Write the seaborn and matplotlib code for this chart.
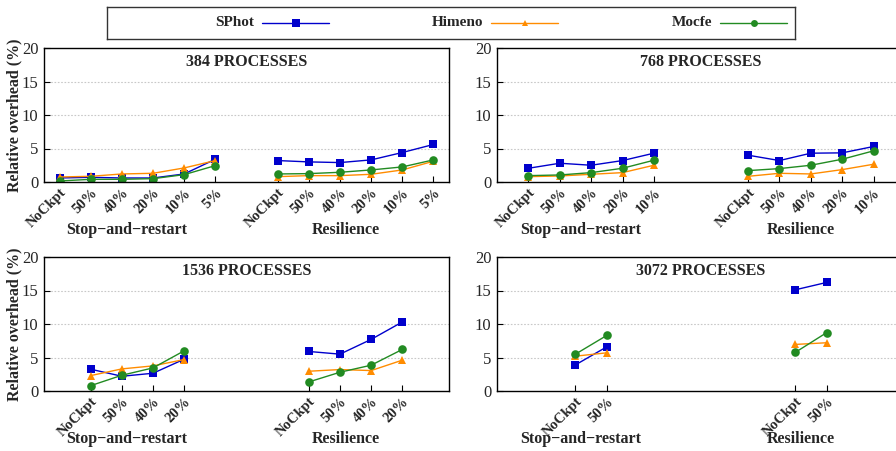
import matplotlib
matplotlib.use("Agg")
import matplotlib.pyplot as plt
import seaborn as sns
import pandas as pd

# ---------------- data ----------------
series = ["SPhot", "Himeno", "Mocfe"]
groups = ["Stop\u2212and\u2212restart", "Resilience"]

cats_384 = ["NoCkpt", "50%", "40%", "20%", "10%", "5%"]
cats_768 = ["NoCkpt", "50%", "40%", "20%", "10%"]
cats_1536 = ["NoCkpt", "50%", "40%", "20%"]
cats_3072 = ["NoCkpt", "50%"]

sphot_384_sr = [0.6, 0.7, 0.6, 0.6, 1.2, 3.4]
sphot_384_res = [3.2, 3.0, 2.9, 3.3, 4.4, 5.6]
himeno_384_sr = [0.75, 0.85, 1.2, 1.3, 2.1, 3.2]
himeno_384_res = [0.8, 0.95, 0.95, 1.15, 1.8, 3.1]
mocfe_384_sr = [0.15, 0.4, 0.4, 0.5, 1.1, 2.45]
mocfe_384_res = [1.2, 1.25, 1.45, 1.8, 2.25, 3.3]

sphot_768_sr = [2.05, 2.8, 2.5, 3.2, 4.3]
sphot_768_res = [4.0, 3.2, 4.3, 4.35, 5.3]
himeno_768_sr = [0.8, 0.9, 1.15, 1.4, 2.5]
himeno_768_res = [0.85, 1.3, 1.2, 1.85, 2.65]
mocfe_768_sr = [0.95, 1.05, 1.4, 2.05, 3.25]
mocfe_768_res = [1.7, 2.0, 2.5, 3.4, 4.65]

sphot_1536_sr = [3.25, 2.2, 2.65, 4.75]
sphot_1536_res = [5.9, 5.5, 7.7, 10.3]
himeno_1536_sr = [2.3, 3.3, 3.75, 4.7]
himeno_1536_res = [2.95, 3.2, 3.05, 4.6]
mocfe_1536_sr = [0.8, 2.35, 3.45, 6.0]
mocfe_1536_res = [1.35, 2.8, 3.85, 6.2]

sphot_3072_sr = [3.9, 6.6]
sphot_3072_res = [15.1, 16.2]
himeno_3072_sr = [5.2, 5.7]
himeno_3072_res = [6.95, 7.2]
mocfe_3072_sr = [5.5, 8.3]
mocfe_3072_res = [5.75, 8.7]

yticks = [0, 5, 10, 15, 20]

# ---------------- styles / layout ----------------
colors = {"SPhot": "#0000cc", "Himeno": "#ff8c00", "Mocfe": "#228b22"}
markers = {"SPhot": "s", "Himeno": "^", "Mocfe": "o"}
msizes = {"SPhot": 6.4, "Himeno": 5.8, "Mocfe": 6.2}

panels = [
    dict(title="384 PROCESSES", cats=cats_384,
         data={"SPhot": (sphot_384_sr, sphot_384_res),
               "Himeno": (himeno_384_sr, himeno_384_res),
               "Mocfe": (mocfe_384_sr, mocfe_384_res)},
         start=(0, 7), xlim=(-0.5, 12.5), rect=(44, 48, 405), left=True),
    dict(title="768 PROCESSES", cats=cats_768,
         data={"SPhot": (sphot_768_sr, sphot_768_res),
               "Himeno": (himeno_768_sr, himeno_768_res),
               "Mocfe": (mocfe_768_sr, mocfe_768_res)},
         start=(0, 7), xlim=(-1, 12), rect=(497, 48, 408), left=False),
    dict(title="1536 PROCESSES", cats=cats_1536,
         data={"SPhot": (sphot_1536_sr, sphot_1536_res),
               "Himeno": (himeno_1536_sr, himeno_1536_res),
               "Mocfe": (mocfe_1536_sr, mocfe_1536_res)},
         start=(1, 8), xlim=(-0.5, 12.5), rect=(44, 257, 405), left=True),
    dict(title="3072 PROCESSES", cats=cats_3072,
         data={"SPhot": (sphot_3072_sr, sphot_3072_res),
               "Himeno": (himeno_3072_sr, himeno_3072_res),
               "Mocfe": (mocfe_3072_sr, mocfe_3072_res)},
         start=(1.5, 8.5), xlim=(-1, 12), rect=(497, 257, 408), left=False),
]

sns.set_theme(style="white")
plt.rcParams["font.family"] = ["Liberation Serif", "DejaVu Serif"]
plt.rcParams["axes.unicode_minus"] = True

W, H = 896, 451
AX_H = 134
fig = plt.figure(figsize=(W / 100, H / 100), dpi=100)

for p in panels:
    x0, ytop, w = p["rect"]
    ax = fig.add_axes([x0 / W, 1 - (ytop + AX_H) / H, w / W, AX_H / H])
    n = len(p["cats"])
    pos_groups = [[p["start"][g] + i for i in range(n)] for g in range(2)]
    for s in series:
        for g in range(2):
            df = pd.DataFrame({"x": pos_groups[g], "y": p["data"][s][g]})
            sns.lineplot(data=df, x="x", y="y", ax=ax, color=colors[s],
                         marker=markers[s], markersize=msizes[s],
                         markeredgewidth=0, linewidth=1.0, legend=False)
    ax.set_xlim(*p["xlim"])
    ax.set_ylim(0, 20)
    ax.set_yticks(yticks)
    ax.set_xticks(pos_groups[0] + pos_groups[1])
    ax.set_xticklabels(p["cats"] + p["cats"], rotation=45, ha="right",
                       va="top", rotation_mode="anchor",
                       fontweight="bold", fontsize=10.5)
    ax.tick_params(axis="x", direction="in", length=4, width=0.8, pad=3,
                   color="black", bottom=True)
    ax.tick_params(axis="y", direction="in", length=4, width=0.8, pad=4,
                   labelsize=12, color="black", left=True)
    ax.grid(False)
    for yv in yticks[1:-1]:
        ax.axhline(yv, color="#c8c8c8", linewidth=0.8, linestyle=(0, (1.5, 1.5)),
                   zorder=0)
    for sp in ax.spines.values():
        sp.set_color("black")
        sp.set_linewidth(1.0)
    ax.set_xlabel("")
    ax.set_ylabel("")
    ax.text(0.5, 1 - 14 / AX_H, p["title"], transform=ax.transAxes,
            ha="center", va="center", fontweight="bold", fontsize=11.5)
    ax.text(0.205, -48 / AX_H, groups[0], transform=ax.transAxes,
            ha="center", va="center", fontweight="bold", fontsize=11.5)
    ax.text(0.745, -48 / AX_H, groups[1], transform=ax.transAxes,
            ha="center", va="center", fontweight="bold", fontsize=11.5)
    if p["left"]:
        ax.text(-30 / w, 0.5, "Relative overhead (%)", transform=ax.transAxes,
                rotation=90, ha="center", va="center", fontweight="bold",
                fontsize=11.5)

# ---------------- legend box ----------------
lax = fig.add_axes([107 / W, 1 - 39 / H, 688 / W, 32 / H])
lax.set_xlim(0, 688)
lax.set_ylim(32, 0)
lax.set_xticks([])
lax.set_yticks([])
for sp in lax.spines.values():
    sp.set_color("#333333")
    sp.set_linewidth(1.0)
leg_ms = {"SPhot": 6.0, "Himeno": 4.5, "Mocfe": 5.0}
for i, s in enumerate(series):
    c0 = i * 229
    lax.text(c0 + 147, 16, s, ha="right", va="center", fontweight="bold",
             fontsize=11)
    lax.plot([c0 + 155, c0 + 222], [16, 16], color=colors[s], linewidth=1.0)
    lax.plot([c0 + 189], [16], color=colors[s], marker=markers[s],
             markersize=leg_ms[s], markeredgewidth=0, linestyle="none")

fig.savefig("out.png", dpi=100)
